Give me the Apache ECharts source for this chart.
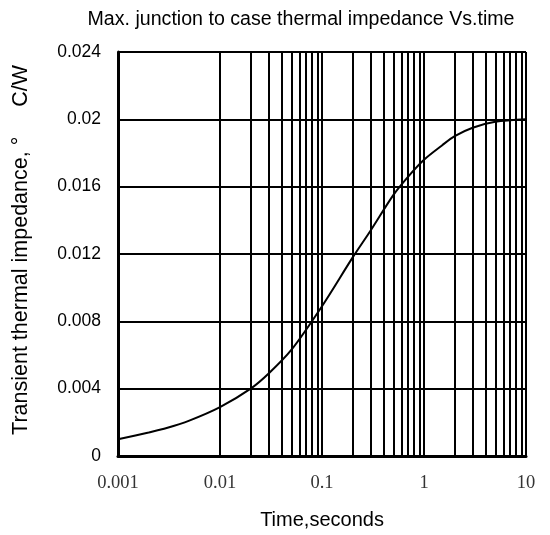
<!DOCTYPE html>
<html><head><meta charset="utf-8">
<script src="https://cdn.jsdelivr.net/npm/echarts@6/dist/echarts.min.js"></script>
<style>html,body{margin:0;padding:0;background:#fff}#c{width:550px;height:535px}</style>
</head><body><div id="c"></div>
<script>
const times = [0.001, 0.002, 0.003, 0.005, 0.01, 0.02, 0.03, 0.05, 0.1, 0.2, 0.3, 0.5, 0.7, 1, 1.5, 2, 3, 5, 10];
const impedance = [0.00099, 0.0014, 0.00166, 0.0021, 0.0029, 0.004, 0.0049, 0.0063, 0.0089, 0.0118, 0.0134, 0.0155, 0.0166, 0.0176, 0.01845, 0.0190, 0.0195, 0.01985, 0.02];
const xTickLabels = ['0.001', '0.01', '0.1', '1', '10'];
const minorGrid = [];
[0.001, 0.01, 0.1, 1].forEach(d => { for (let k = 2; k <= 9; k++) minorGrid.push(+(d * k).toPrecision(3)); });

const chart = echarts.init(document.getElementById('c'));
chart.setOption({
  animation: false,
  title: {
    text: 'Max. junction to case thermal impedance Vs.time',
    left: 296, top: 5, textAlign: 'center',
    textStyle: { fontFamily: 'Liberation Sans', fontSize: 19.6, fontWeight: 'normal', color: '#000' }
  },
  grid: { left: 118, right: 24, top: 52, bottom: 79 },
  xAxis: {
    type: 'log', logBase: 10, min: 0.001, max: 10,
    name: 'Time,seconds', nameLocation: 'middle', nameGap: 54,
    nameTextStyle: { fontFamily: 'Liberation Sans', fontSize: 20, color: '#000' },
    axisLine: { lineStyle: { color: '#000', width: 3 } },
    axisTick: { show: false },
    axisLabel: { fontFamily: 'Liberation Serif', fontSize: 18.5, color: '#333', margin: 18,
      formatter: v => xTickLabels[Math.round(Math.log10(v)) + 3] },
    splitLine: { show: true, lineStyle: { color: '#000', width: 2 } }
  },
  yAxis: {
    type: 'value', min: 0, max: 0.024, interval: 0.004,
    name: 'Transient thermal impedance, \u00B0     C/W', nameLocation: 'middle', nameGap: 86,
    nameTextStyle: { fontFamily: 'Liberation Sans', fontSize: 21.5, color: '#000', padding: [0, 0, 0, 8] },
    axisLine: { show: true, lineStyle: { color: '#000', width: 3 } },
    axisTick: { show: false },
    axisLabel: { fontFamily: 'Liberation Sans', fontSize: 17.5, color: '#000', margin: 17,
      formatter: v => String(+v.toFixed(3)) },
    splitLine: { show: true, lineStyle: { color: '#000', width: 2 } }
  },
  series: [{
    type: 'line', smooth: 0.3, showSymbol: false,
    data: times.map((t, i) => [t, impedance[i]]),
    lineStyle: { color: '#000', width: 2 },
    z: 5,
    markLine: {
      silent: true, symbol: 'none', label: { show: false },
      lineStyle: { color: '#000', width: 2, type: 'solid' },
      data: minorGrid.map(v => ({ xAxis: v }))
    }
  }, {
    type: 'line', data: [], markLine: {
      silent: true, symbol: 'none', label: { show: false },
      lineStyle: { color: '#000', width: 2, type: 'solid' },
      data: [{ yAxis: 0.024 }, { xAxis: 10 }]
    }
  }]
});
</script></body></html>
